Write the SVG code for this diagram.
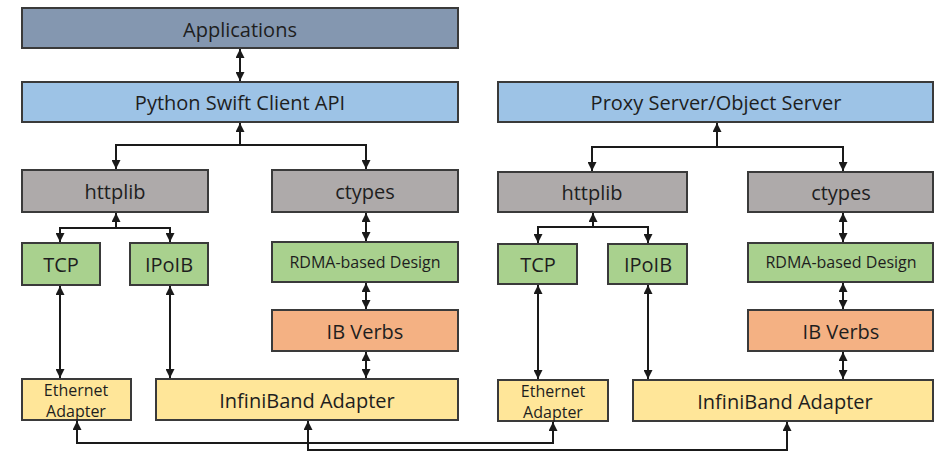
<svg xmlns="http://www.w3.org/2000/svg" width="935" height="452" viewBox="0 0 935 452">
<defs>
<marker id="ah" viewBox="0 0 10 10" refX="10" refY="5" markerWidth="9" markerHeight="9" markerUnits="userSpaceOnUse" orient="auto-start-reverse">
<path d="M0,0 L10,5 L0,10 z" fill="#1a1a1a"/>
</marker>
<style>
.b{stroke:#3a3a3a;stroke-width:2}
.app{fill:#8497b0}
.blue{fill:#9dc3e6}
.gray{fill:#aeaaaa}
.green{fill:#a9d18e}
.orange{fill:#f4b183}
.yellow{fill:#ffe699}
text{font-family:"Open Sans","Liberation Sans",sans-serif;fill:#1e1e1e;text-anchor:middle;dominant-baseline:central}
.t18{font-size:20px}
.t14{font-size:16px}
.t13{font-size:16px}
.c{fill:none;stroke:#1a1a1a;stroke-width:2}
</style>
</defs>
<rect width="935" height="452" fill="#ffffff"/>
<g id="connectors">
<path class="c" d="M240,49 V81" marker-start="url(#ah)" marker-end="url(#ah)"/>
<path class="c" d="M240,145 V123" marker-end="url(#ah)"/>
<path class="c" d="M116,169 V145 H366 V169" marker-start="url(#ah)" marker-end="url(#ah)"/>
<path class="c" d="M116,228 V213" marker-end="url(#ah)"/>
<path class="c" d="M60,242 V228 H170 V242" marker-start="url(#ah)" marker-end="url(#ah)"/>
<path class="c" d="M366,213 V241" marker-start="url(#ah)" marker-end="url(#ah)"/>
<path class="c" d="M366,283 V309" marker-start="url(#ah)" marker-end="url(#ah)"/>
<path class="c" d="M366,352 V378" marker-start="url(#ah)" marker-end="url(#ah)"/>
<path class="c" d="M60,286 V378" marker-start="url(#ah)" marker-end="url(#ah)"/>
<path class="c" d="M170,286 V378" marker-start="url(#ah)" marker-end="url(#ah)"/>
<path class="c" d="M717,147 V123" marker-end="url(#ah)"/>
<path class="c" d="M592,171 V147 H843 V171" marker-start="url(#ah)" marker-end="url(#ah)"/>
<path class="c" d="M593,227 V213" marker-end="url(#ah)"/>
<path class="c" d="M538,243 V227 H648 V243" marker-start="url(#ah)" marker-end="url(#ah)"/>
<path class="c" d="M843,213 V242" marker-start="url(#ah)" marker-end="url(#ah)"/>
<path class="c" d="M843,283 V309" marker-start="url(#ah)" marker-end="url(#ah)"/>
<path class="c" d="M843,352 V379" marker-start="url(#ah)" marker-end="url(#ah)"/>
<path class="c" d="M538,285 V379" marker-start="url(#ah)" marker-end="url(#ah)"/>
<path class="c" d="M648,285 V379" marker-start="url(#ah)" marker-end="url(#ah)"/>
<path class="c" d="M77,421 V443 H553 V422" marker-start="url(#ah)" marker-end="url(#ah)"/>
<path class="c" d="M308,421 V450 H787 V422" marker-start="url(#ah)" marker-end="url(#ah)"/>
</g>
<g id="applications"><rect class="b app" x="22" y="8" width="436" height="40"/><text class="t18" x="240" y="29">Applications</text></g>
<g id="python-swift"><rect class="b blue" x="22" y="82" width="436" height="40"/><text class="t18" x="240" y="102">Python Swift Client API</text></g>
<g id="httplib-l"><rect class="b gray" x="22" y="170" width="186" height="42"/><text class="t18" x="115" y="191">httplib</text></g>
<g id="ctypes-l"><rect class="b gray" x="272" y="170" width="186" height="42"/><text class="t18" x="365" y="191">ctypes</text></g>
<g id="tcp-l"><rect class="b green" x="22" y="243" width="78" height="42"/><text class="t18" x="61" y="264">TCP</text></g>
<g id="ipoib-l"><rect class="b green" x="130" y="243" width="78" height="42"/><text class="t18" x="169" y="264">IPoIB</text></g>
<g id="rdma-l"><rect class="b green" x="272" y="242" width="186" height="40"/><text class="t14" x="365" y="262">RDMA-based Design</text></g>
<g id="ibverbs-l"><rect class="b orange" x="272" y="310" width="186" height="41"/><text class="t18" x="365" y="331">IB Verbs</text></g>
<g id="ethernet-l"><rect class="b yellow" x="22" y="379" width="109" height="41"/><text class="t13" x="76" y="390">Ethernet</text><text class="t13" x="76" y="411">Adapter</text></g>
<g id="infiniband-l"><rect class="b yellow" x="156" y="379" width="302" height="41"/><text class="t18" x="307" y="400">InfiniBand Adapter</text></g>
<g id="proxy-server"><rect class="b blue" x="498" y="82" width="435" height="40"/><text class="t18" x="716" y="102">Proxy Server/Object Server</text></g>
<g id="httplib-r"><rect class="b gray" x="498" y="172" width="189" height="40"/><text class="t18" x="592" y="192">httplib</text></g>
<g id="ctypes-r"><rect class="b gray" x="748" y="172" width="185" height="40"/><text class="t18" x="841" y="192">ctypes</text></g>
<g id="tcp-r"><rect class="b green" x="498" y="244" width="79" height="40"/><text class="t18" x="538" y="264">TCP</text></g>
<g id="ipoib-r"><rect class="b green" x="608" y="244" width="79" height="40"/><text class="t18" x="648" y="264">IPoIB</text></g>
<g id="rdma-r"><rect class="b green" x="748" y="243" width="185" height="39"/><text class="t14" x="841" y="262">RDMA-based Design</text></g>
<g id="ibverbs-r"><rect class="b orange" x="748" y="310" width="185" height="41"/><text class="t18" x="841" y="331">IB Verbs</text></g>
<g id="ethernet-r"><rect class="b yellow" x="498" y="380" width="110" height="41"/><text class="t13" x="553" y="391">Ethernet</text><text class="t13" x="553" y="412">Adapter</text></g>
<g id="infiniband-r"><rect class="b yellow" x="633" y="380" width="300" height="41"/><text class="t18" x="785" y="401">InfiniBand Adapter</text></g>
</svg>
